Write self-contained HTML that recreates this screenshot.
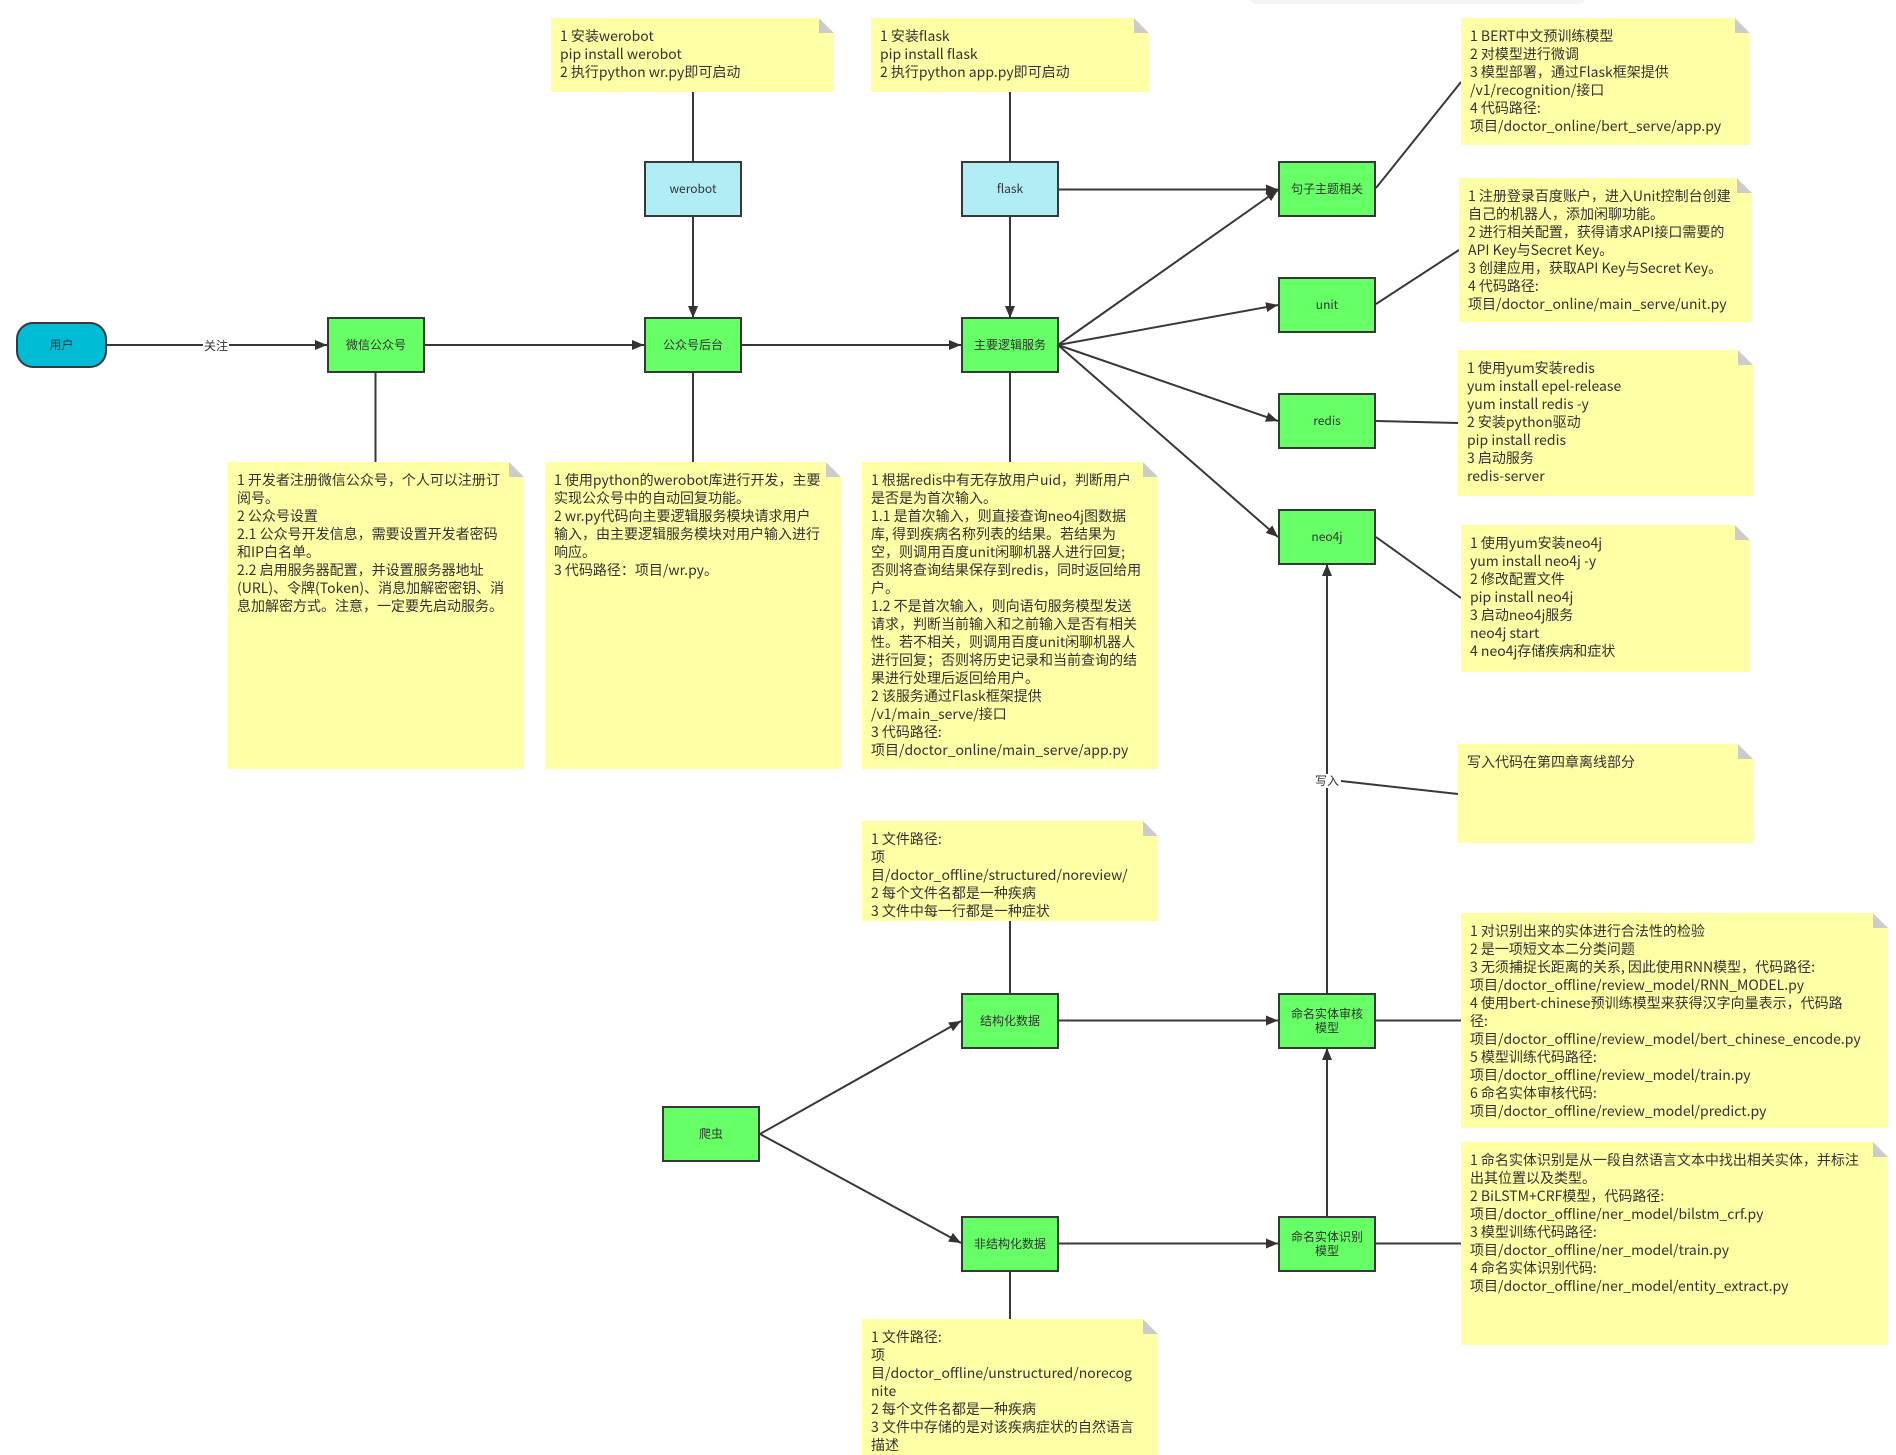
<!DOCTYPE html>
<html lang="zh">
<head>
<meta charset="utf-8">
<title>Diagram</title>
<style>
html,body{margin:0;padding:0;background:#fff}
#c{position:relative;width:1896px;height:1455px;overflow:hidden;background:#fff;font-family:"Noto Sans CJK SC","Liberation Sans",sans-serif;color:#333}
svg{position:absolute;left:0;top:0}
.n{position:absolute;background:#ffffa6;font-size:14px;line-height:18px;white-space:pre;padding:9px 0 0 9px;box-sizing:border-box;clip-path:polygon(0 0,calc(100% - 15px) 0,100% 15px,100% 100%,0 100%);overflow:hidden}
.n:after{content:"";position:absolute;right:0;top:0;width:15px;height:15px;background:linear-gradient(to top right,#ccc 50%,transparent 50%)}
.b{position:absolute;box-sizing:border-box;border:2px solid #383838;background:#66ff66;font-size:12px;line-height:14px;display:flex;align-items:center;justify-content:center;text-align:center;width:98px;height:56px}
.u{background:#b0edf4}
.l{position:absolute;background:#fff;font-size:12px;line-height:14px;transform:translate(-50%,-50%);padding:0 1px}
</style>
</head>
<body>
<div id="c">
<div style="position:absolute;left:1250px;top:-8px;width:335px;height:12px;border-radius:6px;background:#f4f4f4"></div>
<svg width="1896" height="1455" viewBox="0 0 1896 1455">
<defs><marker id="a" markerUnits="userSpaceOnUse" markerWidth="12" markerHeight="10" refX="12" refY="5" orient="auto"><path d="M0 0L12 5L0 10L0 0Z" fill="#333"/></marker></defs>
<g stroke="#383838" stroke-width="2" fill="none">
<path d="M107 345H327" marker-end="url(#a)"/>
<path d="M424 345H644" marker-end="url(#a)"/>
<path d="M741 345H961" marker-end="url(#a)"/>
<path d="M375.500 372V462M693 372V462M1010 372V462M693 92V162M1010 92V162"/>
<path d="M693 217V318" marker-end="url(#a)"/>
<path d="M1010 217V318" marker-end="url(#a)"/>
<path d="M1058 189.500H1278" marker-end="url(#a)"/>
<path d="M1058 345L1278 190" marker-end="url(#a)"/>
<path d="M1058 345L1278 305" marker-end="url(#a)"/>
<path d="M1058 345L1278 421" marker-end="url(#a)"/>
<path d="M1058 345L1278 537" marker-end="url(#a)"/>
<path d="M1376 188L1461 82M1376 304L1459 250M1376 421L1458 423M1376 537L1461 598M1341 781L1458 794"/>
<path d="M1327 993V564" marker-end="url(#a)"/>
<path d="M1327 1216V1048" marker-end="url(#a)"/>
<path d="M1059 1020.500H1278" marker-end="url(#a)"/>
<path d="M1059 1243.500H1278" marker-end="url(#a)"/>
<path d="M1375 1020.500H1461M1375 1243.500H1461"/>
<path d="M760 1134L961 1021" marker-end="url(#a)"/>
<path d="M760 1134L961 1243" marker-end="url(#a)"/>
<path d="M1010 921V993M1010 1271V1319"/>
</g>
</svg>
<div class="l" style="left:216px;top:346px">关注</div>
<div class="l" style="left:1327px;top:781px">写入</div>

<div class="b" style="left:16px;top:322px;width:91px;height:46px;border-radius:17px;background:#00bcd4">用户</div>
<div class="b" style="left:327px;top:317px">微信公众号</div>
<div class="b" style="left:644px;top:317px">公众号后台</div>
<div class="b" style="left:961px;top:317px">主要逻辑服务</div>
<div class="b u" style="left:644px;top:161px">werobot</div>
<div class="b u" style="left:961px;top:161px">flask</div>
<div class="b" style="left:1278px;top:161px">句子主题相关</div>
<div class="b" style="left:1278px;top:277px">unit</div>
<div class="b" style="left:1278px;top:393px">redis</div>
<div class="b" style="left:1278px;top:509px">neo4j</div>
<div class="b" style="left:1278px;top:993px">命名实体审核<br>模型</div>
<div class="b" style="left:1278px;top:1216px">命名实体识别<br>模型</div>
<div class="b" style="left:961px;top:993px">结构化数据</div>
<div class="b" style="left:961px;top:1216px">非结构化数据</div>
<div class="b" style="left:662px;top:1106px">爬虫</div>

<div class="n" style="left:551px;top:18px;width:283px;height:74px">1 安装werobot
pip install werobot
2 执行python wr.py即可启动</div>
<div class="n" style="left:871px;top:18px;width:278px;height:74px">1 安装flask
pip install flask
2 执行python app.py即可启动</div>
<div class="n" style="left:1461px;top:18px;width:289px;height:127px">1 BERT中文预训练模型
2 对模型进行微调
3 模型部署，通过Flask框架提供
/v1/recognition/接口
4 代码路径:
项目/doctor_online/bert_serve/app.py</div>
<div class="n" style="left:1459px;top:178px;width:293px;height:144px">1 注册登录百度账户，进入Unit控制台创建
自己的机器人，添加闲聊功能。
2 进行相关配置，获得请求API接口需要的
API Key与Secret Key。
3 创建应用，获取API Key与Secret Key。
4 代码路径:
项目/doctor_online/main_serve/unit.py</div>
<div class="n" style="left:1458px;top:350px;width:295px;height:146px">1 使用yum安装redis
yum install epel-release
yum install redis -y
2 安装python驱动
pip install redis
3 启动服务
redis-server</div>
<div class="n" style="left:1461px;top:525px;width:289px;height:147px">1 使用yum安装neo4j
yum install neo4j -y
2 修改配置文件
pip install neo4j
3 启动neo4j服务
neo4j start
4 neo4j存储疾病和症状</div>
<div class="n" style="left:1458px;top:744px;width:295px;height:99px">写入代码在第四章离线部分</div>
<div class="n" style="left:228px;top:462px;width:296px;height:307px">1 开发者注册微信公众号，个人可以注册订
阅号。
2 公众号设置
2.1 公众号开发信息，需要设置开发者密码
和IP白名单。
2.2 启用服务器配置，并设置服务器地址
(URL)、令牌(Token)、消息加解密密钥、消
息加解密方式。注意，一定要先启动服务。</div>
<div class="n" style="left:545px;top:462px;width:296px;height:307px">1 使用python的werobot库进行开发，主要
实现公众号中的自动回复功能。
2 wr.py代码向主要逻辑服务模块请求用户
输入，由主要逻辑服务模块对用户输入进行
响应。
3 代码路径：项目/wr.py。</div>
<div class="n" style="left:862px;top:462px;width:296px;height:307px">1 根据redis中有无存放用户uid，判断用户
是否是为首次输入。
1.1 是首次输入，则直接查询neo4j图数据
库, 得到疾病名称列表的结果。若结果为
空，则调用百度unit闲聊机器人进行回复;
否则将查询结果保存到redis，同时返回给用
户。
1.2 不是首次输入，则向语句服务模型发送
请求，判断当前输入和之前输入是否有相关
性。若不相关，则调用百度unit闲聊机器人
进行回复；否则将历史记录和当前查询的结
果进行处理后返回给用户。
2 该服务通过Flask框架提供
/v1/main_serve/接口
3 代码路径:
项目/doctor_online/main_serve/app.py</div>
<div class="n" style="left:862px;top:821px;width:296px;height:100px">1 文件路径:
项
目/doctor_offline/structured/noreview/
2 每个文件名都是一种疾病
3 文件中每一行都是一种症状</div>
<div class="n" style="left:862px;top:1319px;width:296px;height:136px">1 文件路径:
项
目/doctor_offline/unstructured/norecog
nite
2 每个文件名都是一种疾病
3 文件中存储的是对该疾病症状的自然语言
描述</div>
<div class="n" style="left:1461px;top:913px;width:427px;height:215px">1 对识别出来的实体进行合法性的检验
2 是一项短文本二分类问题
3 无须捕捉长距离的关系, 因此使用RNN模型，代码路径:
项目/doctor_offline/review_model/RNN_MODEL.py
4 使用bert-chinese预训练模型来获得汉字向量表示，代码路
径:
项目/doctor_offline/review_model/bert_chinese_encode.py
5 模型训练代码路径:
项目/doctor_offline/review_model/train.py
6 命名实体审核代码:
项目/doctor_offline/review_model/predict.py</div>
<div class="n" style="left:1461px;top:1142px;width:427px;height:203px">1 命名实体识别是从一段自然语言文本中找出相关实体，并标注
出其位置以及类型。
2 BiLSTM+CRF模型，代码路径:
项目/doctor_offline/ner_model/bilstm_crf.py
3 模型训练代码路径:
项目/doctor_offline/ner_model/train.py
4 命名实体识别代码:
项目/doctor_offline/ner_model/entity_extract.py</div>
</div>
</body>
</html>
